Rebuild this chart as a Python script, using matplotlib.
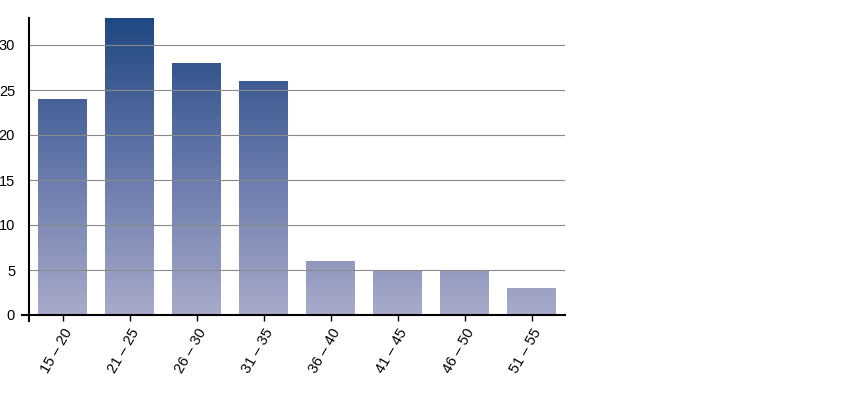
import numpy as np
import matplotlib.pyplot as plt
from matplotlib.colors import LinearSegmentedColormap

plt.rcParams['font.family'] = ['Liberation Sans', 'DejaVu Sans']

categories = ['15 – 20', '21 – 25', '26 – 30', '31 – 35',
              '36 – 40', '41 – 45', '46 – 50', '51 – 55']
values = [24, 33, 28, 26, 6, 5, 5, 3]
y_ticks = [0, 5, 10, 15, 20, 25, 30]

fig = plt.figure(figsize=(8.5, 4), dpi=100)
ax = fig.add_axes([29 / 850, 1 - 315 / 400, 536 / 850, 297 / 400])

ymax = max(values)
cmap = LinearSegmentedColormap.from_list('bars', ['#a8abcb', '#6677aa', '#1f4882'])
grad = np.linspace(0, 1, 256).reshape(-1, 1)

x = np.arange(len(categories))
bars = ax.bar(x, values, width=0.72, color='none', zorder=1)
for b in bars:
    im = ax.imshow(grad, cmap=cmap, origin='lower', aspect='auto',
                   extent=(-0.5, len(categories) - 0.5, 0, ymax), zorder=1)
    im.set_clip_path(b)

ax.set_xlim(-0.5, len(categories) - 0.5)
ax.set_ylim(0, ymax)
ax.set_yticks(y_ticks)
ax.set_xticks(x)
ax.set_xticklabels(categories, rotation=60, ha='right', rotation_mode='anchor')
ax.tick_params(axis='y', length=0, labelsize=10.5, pad=10)
ax.tick_params(axis='x', length=4, labelsize=10.5, pad=4, width=1)
ax.set_xticks([-0.5], minor=True)
ax.tick_params(axis='x', which='minor', length=5, width=1.5)
# short stub of the x axis to the left of the y axis
ax.plot([-0.013, 0], [0, 0], color='black', linewidth=1.5,
        transform=ax.get_yaxis_transform(), clip_on=False, zorder=3)
for t in y_ticks[1:]:
    ax.axhline(t, color='#8a8a8a', linewidth=0.8, zorder=2)

for s in ['top', 'right']:
    ax.spines[s].set_visible(False)
ax.spines['left'].set_linewidth(1.5)
ax.spines['bottom'].set_linewidth(1.5)
ax.spines['left'].set_zorder(3)
ax.spines['bottom'].set_zorder(3)

fig.savefig('out.png', dpi=100)
